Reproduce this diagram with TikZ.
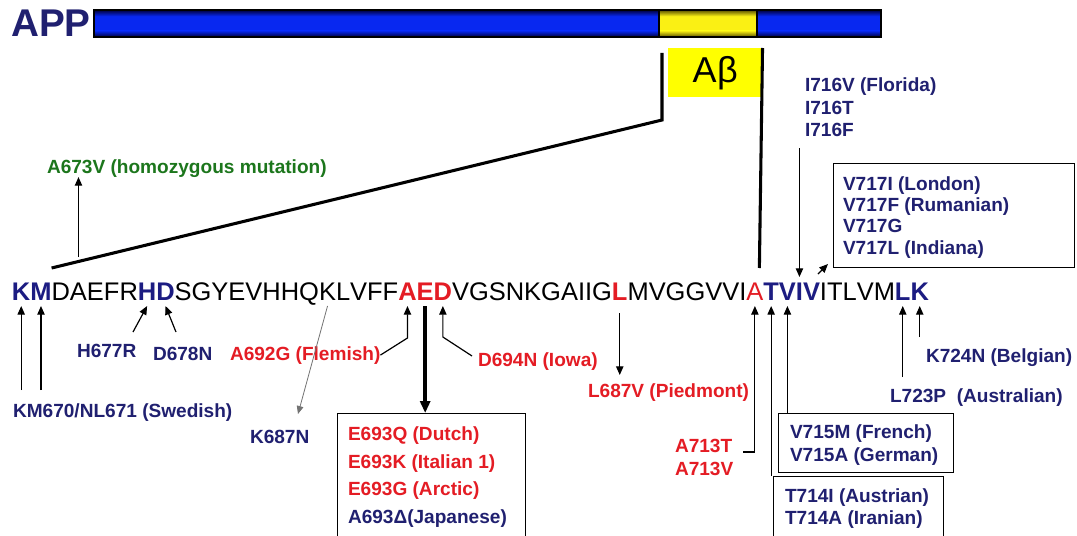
\documentclass[tikz,border=0pt]{standalone}
\usepackage{fontspec}
\setmainfont{Liberation Sans}
\usetikzlibrary{arrows.meta,calc,backgrounds}
\definecolor{navy}{RGB}{32,32,112}
\definecolor{seqblue}{RGB}{28,28,130}
\definecolor{mred}{RGB}{228,28,36}
\definecolor{mgreen}{RGB}{28,118,28}
\definecolor{barblue}{RGB}{8,40,240}
\definecolor{darkblue}{RGB}{0,0,60}
\definecolor{hlyellow}{RGB}{255,255,0}
\definecolor{baryellow}{RGB}{250,240,20}
\definecolor{darkyellow}{RGB}{90,80,0}
\begin{document}
\begin{tikzpicture}[x=0.75pt,y=-0.75pt,
  lab/.style={inner sep=0pt, outer sep=0pt, anchor=base west, font=\fontsize{14.3}{17}\selectfont\bfseries},
  navlab/.style={lab, text=navy},
  redlab/.style={lab, text=mred},
  greenlab/.style={lab, text=mgreen},
  arr/.style={draw=black, line width=0.9pt, -{Triangle[length=6.5pt,width=5.5pt]}},
  thickarr/.style={draw=black, line width=3pt, -{Triangle[length=9pt,width=7.5pt]}},
  faintarr/.style={draw=black!55, line width=0.6pt, -{Triangle[length=6pt,width=5pt]}},
  brk/.style={line width=2.3pt, line join=miter},
  mbox/.style={draw=black, line width=0.9pt, inner sep=0pt, anchor=north west},
  seq/.style={inner sep=0pt, outer sep=0pt, anchor=base west, font=\fontsize{19.1}{20}\selectfont},
  sqn/.style={text=black},
  sqB/.style={text=seqblue, font=\fontsize{19.1}{20}\selectfont\bfseries},
  sqR/.style={text=mred, font=\fontsize{19.1}{20}\selectfont\bfseries},
  sqr/.style={text=mred},
]
\useasboundingbox (0,0) rectangle (1077,535);
\fill[white] (0,0) rectangle (1077,535);

% ---------- APP bar ----------
\node[inner sep=0pt, anchor=west, text=navy, font=\fontsize{29}{30}\selectfont\bfseries] (app) at (11,23) {APP};
\fill[barblue] (94,16) rectangle (881,31);
\shade[top color=darkblue, bottom color=barblue] (94,10) rectangle (881,16.2);
\shade[top color=barblue, bottom color=darkblue] (94,30.8) rectangle (881,37);
\draw[line width=1pt] (94,10) rectangle (881,37);
\fill[baryellow] (659,16) rectangle (757,31);
\shade[top color=darkyellow, bottom color=baryellow] (659,10) rectangle (757,16.2);
\shade[top color=baryellow, bottom color=darkyellow] (659,30.8) rectangle (757,37);
\draw[line width=1pt] (659,10) rectangle (757,37);

\node[fill=hlyellow, inner sep=0pt, minimum width=70.5pt, minimum height=36.75pt, anchor=north west,
      font=\fontsize{27}{28}\selectfont] (abox) at (668,48) {A\kern0.5ptβ};

% ---------- sequence ----------
\node[seq, minimum width=0pt, minimum height=0pt] (l0) at (12,300) {};
\foreach \ch/\st [count=\i] in {K/sqB,M/sqB,D/sqn,A/sqn,E/sqn,F/sqn,R/sqn,H/sqB,D/sqB,S/sqn,
  G/sqn,Y/sqn,E/sqn,V/sqn,H/sqn,H/sqn,Q/sqn,K/sqn,L/sqn,V/sqn,F/sqn,F/sqn,A/sqR,E/sqR,D/sqR,
  V/sqn,G/sqn,S/sqn,N/sqn,K/sqn,G/sqn,A/sqn,I/sqn,I/sqn,G/sqn,L/sqR,M/sqn,V/sqn,G/sqn,G/sqn,
  V/sqn,V/sqn,I/sqn,A/sqr,T/sqB,V/sqB,I/sqB,V/sqB,I/sqn,T/sqn,L/sqn,V/sqn,M/sqn,L/sqB,K/sqB}{
  \pgfmathtruncatemacro\p{\i-1}
  \node[seq,\st] (l\i) at (l\p.base east) {\ch};
}
\foreach \i in {1,...,55}{
  \coordinate (b\i) at ($(l\i.base)+(0,6)$);
  \coordinate (t\i) at ($(l\i.base)+(0,-23)$);
}
\coordinate (hlTL) at (l3.base west |- 0,268);
\coordinate (hlTR) at (l44.base east |- 0,268);
\begin{pgfonlayer}{background}
  \fill[hlyellow] (hlTL) rectangle (l44.base east |- 0,303);
\end{pgfonlayer}

% ---------- brackets ----------
\draw[brk] (662,53) -- (662,120) -- (hlTL);
\draw[brk] (abox.north east) -- ([xshift=-3pt]hlTR);

% ---------- labels ----------
\node[greenlab] (a673) at (47,173) {A673V (homozygous mutation)};
\node[navlab] (km) at (13,417) {KM670/NL671 (Swedish)};
\node[navlab] (h677) at (77,357) {H677R};
\node[navlab] (d678) at (153,360) {D678N};
\node[redlab] (a692) at (230,360) {A692G (Flemish)};
\node[redlab] (d694) at (478,366) {D694N (Iowa)};
\node[redlab] (l705) at (588,397) {L687V (Piedmont)};
\node[navlab] (k687) at (250,443) {K687N};
\node[redlab] (a713t) at (675,452) {A713T};
\node[redlab] (a713v) at (675,475) {A713V};
\node[navlab] (i716v) at (805,92) {I716V (Florida)};
\node[navlab] (i716t) at (805,114) {I716T};
\node[navlab] (i716f) at (805,136) {I716F};
\node[navlab] (k724) at (926,362) {K724N (Belgian)};
\node[navlab] (l723) at (890,402) {L723P\ \ (Australian)};

% ---------- boxes ----------
\node[mbox, minimum width=141pt, minimum height=99pt] (e693box) at (337,413) {};
\node[redlab] (e693q) at (348,440) {E693Q (Dutch)};
\node[redlab] (e693k) at (348,468) {E693K (Italian 1)};
\node[redlab] (e693g) at (348,495) {E693G (Arctic)};
\node[navlab] (a693d) at (348,523) {A693Δ(Japanese)};

\node[mbox, minimum width=131.25pt, minimum height=44.25pt] (v715box) at (778,413) {};
\node[navlab] (v715m) at (790,438) {V715M (French)};
\node[navlab] (v715a) at (790,461) {V715A (German)};

\node[mbox, minimum width=127.5pt, minimum height=51.75pt] (t714box) at (773,476) {};
\node[navlab] (t714i) at (785,502) {T714I (Austrian)};
\node[navlab] (t714a) at (785,524) {T714A (Iranian)};

\node[mbox, minimum width=180.75pt, minimum height=78pt] (v717box) at (833,163) {};
\node[navlab] (v717i) at (843,190) {V717I (London)};
\node[navlab] (v717f) at (843,211) {V717F (Rumanian)};
\node[navlab] (v717g) at (843,232) {V717G};
\node[navlab] (v717l) at (843,254) {V717L (Indiana)};

% ---------- connectors ----------
\draw[arr] (l4.base |- 0,257) -- (l4.base |- a673.south);
\draw[arr] (b1 |- 0,390) -- (b1);
\draw[arr] (b2 |- 0,390) -- (b2);
\draw[arr] (133,332) -- (b8);
\draw[arr] (176,332) -- (b9);
\draw[arr] (a692.east) -- (b23 |- 0,338) -- (b23);
\draw[arr] (472,356) -- (b25 |- 0,337) -- (b25);
\draw[thickarr] (b24) -- (b24 |- e693box.north);
\draw[arr] (b36 |- 0,313) -- (b36 |- 0,375);
\draw[faintarr] (b18) -- (298,414);
\draw[arr] (743,452) -- (b44 |- 0,452) -- (b44);
\draw[arr] (b45 |- t714box.north) -- (b45);
\draw[arr] (b46 |- v715box.north) -- (b46);
\draw[arr] (t47 |- 0,148) -- (t47);
\draw[arr] ($(l48.base east)+(-2,-26)$) -- ($(l48.base east)+(8,-36)$);
\draw[arr] (b54 |- 0,377) -- (b54);
\draw[arr] (b55 |- 0,337) -- (b55);
\end{tikzpicture}
\end{document}
